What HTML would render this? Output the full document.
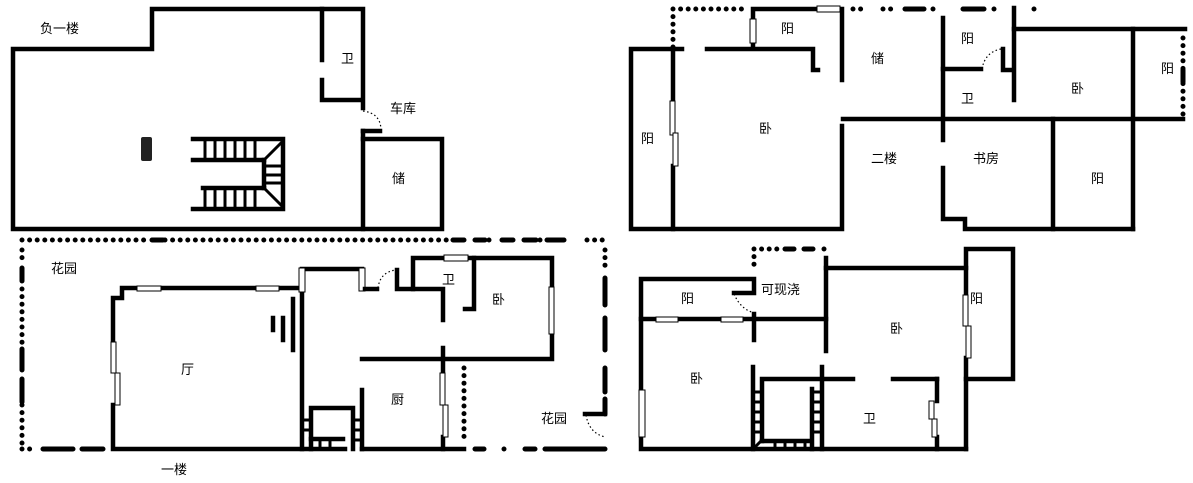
<!DOCTYPE html>
<html><head><meta charset="utf-8"><style>
html,body{margin:0;padding:0;background:#fff;}
svg{display:block;}
text{font-family:"Liberation Sans","Noto Sans CJK SC",sans-serif;font-size:13px;fill:#000;}
.w{stroke:#000;stroke-width:4.5;fill:none;stroke-linecap:square;}
.t{stroke:#000;stroke-width:3;fill:none;}
.d{stroke:#000;stroke-width:5;fill:none;stroke-linecap:round;stroke-dasharray:0 7.6;}
.da{stroke:#000;stroke-width:5;fill:none;stroke-linecap:round;}
.arc{stroke:#000;stroke-width:1.2;fill:none;stroke-dasharray:1.5 2.5;}
.win{fill:#fff;stroke:#000;stroke-width:1;}
</style></head><body>
<svg width="1193" height="483" viewBox="0 0 1193 483" xmlns="http://www.w3.org/2000/svg">

<!-- ===== Basement ===== -->
<polyline class="w" points="363,108 363,9 152,9 152,49 13,49 13,229 442,229 442,139 363,139"/>
<line class="w" x1="363" y1="131" x2="363" y2="229"/>
<line class="w" x1="363" y1="131" x2="380" y2="131"/>
<path class="arc" d="M363,111 Q380,113 381,129"/>
<polyline class="w" points="322,9 322,60"/>
<polyline class="w" points="322,80 322,100 360,100"/>
<!-- stairs -->
<polyline class="w" points="193,139 283,139 283,209 193,209"/>
<line class="w" x1="193" y1="160" x2="264" y2="160"/>
<line class="w" x1="203" y1="188" x2="264" y2="188"/>
<line class="w" x1="264" y1="160" x2="264" y2="188"/>
<g class="t">
<line x1="205" y1="139" x2="205" y2="160"/><line x1="215" y1="139" x2="215" y2="160"/><line x1="225" y1="139" x2="225" y2="160"/><line x1="235" y1="139" x2="235" y2="160"/><line x1="245" y1="139" x2="245" y2="160"/><line x1="255" y1="139" x2="255" y2="160"/>
<line x1="205" y1="188" x2="205" y2="209"/><line x1="215" y1="188" x2="215" y2="209"/><line x1="225" y1="188" x2="225" y2="209"/><line x1="235" y1="188" x2="235" y2="209"/><line x1="245" y1="188" x2="245" y2="209"/><line x1="255" y1="188" x2="255" y2="209"/>
<line x1="264" y1="166" x2="283" y2="166"/><line x1="264" y1="175" x2="283" y2="175"/><line x1="264" y1="183" x2="283" y2="183"/>
<line x1="264" y1="160" x2="283" y2="141"/><line x1="264" y1="188" x2="283" y2="207"/>
</g>
<rect x="141" y="137" width="11" height="24" rx="2" fill="#222"/>
<text x="40" y="33">负一楼</text>
<text x="341" y="63">卫</text>
<text x="390" y="113">车库</text>
<text x="392" y="183">储</text>

<!-- ===== Second floor (二楼) ===== -->
<path class="d" d="M673,9 L745,9 M673,9 L673,48"/>
<path class="d" d="M853,9 L863,9 M883,9 L893,9 M933,9 L934,9 M994,9 L995,9 M1034,9 L1035,9"/>
<path class="da" d="M905,9 L924,9 M963,9 L984,9"/>
<path class="d" d="M1183,38 L1183,118"/>
<line class="da" x1="1183" y1="70" x2="1183" y2="82"/>
<polyline class="w" points="682,49 631,49 631,229 842,229 842,126"/>
<polyline class="w" points="673,49 673,100"/>
<polyline class="w" points="673,166 673,229"/>
<rect class="win" x="670" y="101" width="5" height="34"/>
<rect class="win" x="673" y="133" width="5" height="33"/>
<polyline class="w" points="707,49 813,49 813,70 818,70"/>
<polyline class="w" points="753,48 753,9 842,9 842,80"/>
<rect class="win" x="750" y="19" width="6" height="24"/>
<rect class="win" x="817" y="6" width="23" height="6"/>
<line class="w" x1="843" y1="119" x2="1183" y2="119"/>
<polyline class="w" points="943,18 943,140"/>
<polyline class="w" points="943,168 943,219 965,219 965,229 1133,229"/>
<line class="w" x1="943" y1="69" x2="981" y2="69"/>
<path class="arc" d="M982,69 Q985,52 1001,49"/>
<polyline class="w" points="1003,49 1003,70 1013,70"/>
<line class="w" x1="1014" y1="8" x2="1014" y2="100"/>
<line class="w" x1="1014" y1="29" x2="1185" y2="29"/>
<line class="w" x1="1133" y1="29" x2="1133" y2="229"/>
<line class="w" x1="1053" y1="119" x2="1053" y2="229"/>
<text x="781" y="33">阳</text>
<text x="871" y="63">储</text>
<text x="961" y="43">阳</text>
<text x="961" y="103">卫</text>
<text x="1071" y="93">卧</text>
<text x="1161" y="73">阳</text>
<text x="641" y="143">阳</text>
<text x="759" y="133">卧</text>
<text x="871" y="163">二楼</text>
<text x="973" y="163">书房</text>
<text x="1091" y="183">阳</text>

<!-- ===== First floor (一楼) ===== -->
<path class="d" d="M22,240 L150,240 M165,240 L450,240 M489,240 L490,240 M540,240 L541,240 M587,240 L606,240"/>
<path class="da" d="M152,240 L163,240 M453,240 L464,240 M475,240 L485,240 M502,240 L513,240 M524,240 L536,240 M547,240 L564,240"/>
<path class="d" d="M22,250 L22,265 M22,289 L22,345 M22,405 L22,445 M22,449 L32,449 M504,449 L505,449"/>
<path class="da" d="M22,268 L22,281 M22,349 L22,370 M22,379 L22,402 M43,449 L73,449 M82,449 L103,449 M475,449 L484,449 M525,449 L535,449 M545,449 L605,449"/>
<path class="d" d="M605,250 L605,270"/>
<path class="da" d="M605,278 L605,305 M605,318 L605,350 M605,368 L605,392 M605,399 L605,414"/>
<line class="w" x1="585" y1="414" x2="605" y2="414"/>
<path class="arc" d="M586,415 Q589,433 605,437"/>
<path class="d" d="M464,368 L464,442"/>
<polyline class="w" points="113,342 113,298 122,298 122,288 303,288"/>
<polyline class="w" points="113,405 113,449 345,449"/>
<rect class="win" x="111" y="342" width="5" height="31"/>
<rect class="win" x="115" y="373" width="5" height="32"/>
<rect class="win" x="137" y="286" width="24" height="5"/>
<rect class="win" x="256" y="286" width="23" height="5"/>
<line class="w" x1="302" y1="290" x2="302" y2="449"/>
<polyline class="w" points="302,269 362,269"/>
<rect class="win" x="299" y="268" width="6" height="24"/>
<rect class="win" x="359" y="268" width="6" height="23"/>
<line class="w" x1="365" y1="289" x2="377" y2="289"/>
<path class="arc" d="M378,288 Q380,272 396,270"/>
<polyline class="w" points="397,270 397,289 443,289 443,320"/>
<polyline class="w" points="413,289 413,258 552,258 552,359 362,359"/>
<rect class="win" x="444" y="255" width="24" height="6"/>
<rect class="win" x="549" y="287" width="5" height="47"/>
<polyline class="w" points="474,258 474,309 465,309"/>
<line class="w" x1="443" y1="348" x2="443" y2="372"/>
<line class="w" x1="443" y1="437" x2="443" y2="449"/>
<rect class="win" x="440" y="373" width="5" height="32"/>
<rect class="win" x="443" y="405" width="5" height="32"/>
<line class="w" x1="362" y1="390" x2="362" y2="449"/>
<line class="w" x1="362" y1="449" x2="464" y2="449"/>
<line class="w" x1="293" y1="299" x2="293" y2="350"/>
<line class="w" x1="283" y1="318" x2="283" y2="340"/>
<line class="w" x1="273" y1="318" x2="273" y2="330"/>
<polyline class="w" points="311,449 311,408 353,408 353,449"/>
<line class="w" x1="311" y1="439" x2="343" y2="439"/>
<g class="t">
<line x1="302" y1="420" x2="311" y2="420"/><line x1="302" y1="430" x2="311" y2="430"/>
<line x1="353" y1="420" x2="362" y2="420"/><line x1="353" y1="430" x2="362" y2="430"/><line x1="353" y1="440" x2="362" y2="440"/>
<line x1="320" y1="439" x2="320" y2="449"/><line x1="330" y1="439" x2="330" y2="449"/>
</g>
<text x="51" y="273">花园</text>
<text x="181" y="374">厅</text>
<text x="442" y="284">卫</text>
<text x="492" y="304">卧</text>
<text x="391" y="404">厨</text>
<text x="541" y="423">花园</text>
<text x="161" y="474">一楼</text>

<!-- ===== Third floor ===== -->
<path class="d" d="M754,249 L784,249 M824,249 L826,249 M754,249 L754,270"/>
<path class="da" d="M785,249 L794,249 M804,249 L813,249"/>
<polyline class="w" points="641,390 641,279 754,279 754,293 734,293"/>
<path class="arc" d="M734,294 Q741,310 755,313"/>
<line class="w" x1="641" y1="319" x2="826" y2="319"/>
<rect class="win" x="656" y="317" width="22" height="5"/>
<rect class="win" x="721" y="317" width="22" height="5"/>
<line class="w" x1="754" y1="314" x2="754" y2="340"/>
<polyline class="w" points="641,437 641,449 966,449"/>
<rect class="win" x="639" y="390" width="6" height="47"/>
<line class="w" x1="826" y1="258" x2="826" y2="351"/>
<line class="w" x1="826" y1="268" x2="966" y2="268"/>
<polyline class="w" points="966,295 966,249 1013,249 1013,379 966,379"/>
<line class="w" x1="966" y1="358" x2="966" y2="449"/>
<rect class="win" x="963" y="295" width="5" height="31"/>
<rect class="win" x="966" y="326" width="5" height="32"/>
<line class="w" x1="753" y1="367" x2="753" y2="449"/>
<polyline class="w" points="762,441 762,379 853,379"/>
<line class="w" x1="893" y1="379" x2="937" y2="379"/>
<line class="w" x1="937" y1="379" x2="937" y2="401"/>
<line class="w" x1="937" y1="437" x2="937" y2="449"/>
<rect class="win" x="929" y="401" width="5" height="18"/>
<rect class="win" x="932" y="419" width="5" height="18"/>
<line class="w" x1="762" y1="441" x2="811" y2="441"/>
<line class="w" x1="812" y1="389" x2="812" y2="449"/>
<line class="w" x1="822" y1="367" x2="822" y2="449"/>
<g class="t">
<line x1="753" y1="392" x2="762" y2="392"/><line x1="753" y1="402" x2="762" y2="402"/><line x1="753" y1="412" x2="762" y2="412"/><line x1="753" y1="422" x2="762" y2="422"/><line x1="753" y1="432" x2="762" y2="432"/>
<line x1="812" y1="392" x2="822" y2="392"/><line x1="812" y1="402" x2="822" y2="402"/><line x1="812" y1="412" x2="822" y2="412"/><line x1="812" y1="422" x2="822" y2="422"/><line x1="812" y1="432" x2="822" y2="432"/>
<line x1="775" y1="441" x2="775" y2="449"/><line x1="785" y1="441" x2="785" y2="449"/><line x1="795" y1="441" x2="795" y2="449"/><line x1="805" y1="441" x2="805" y2="449"/>
<line x1="753" y1="449" x2="762" y2="440"/>
</g>
<text x="761" y="294">可现浇</text>
<text x="681" y="303">阳</text>
<text x="890" y="333">卧</text>
<text x="690" y="383">卧</text>
<text x="863" y="423">卫</text>
<text x="970" y="303">阳</text>
</svg>
</body></html>
